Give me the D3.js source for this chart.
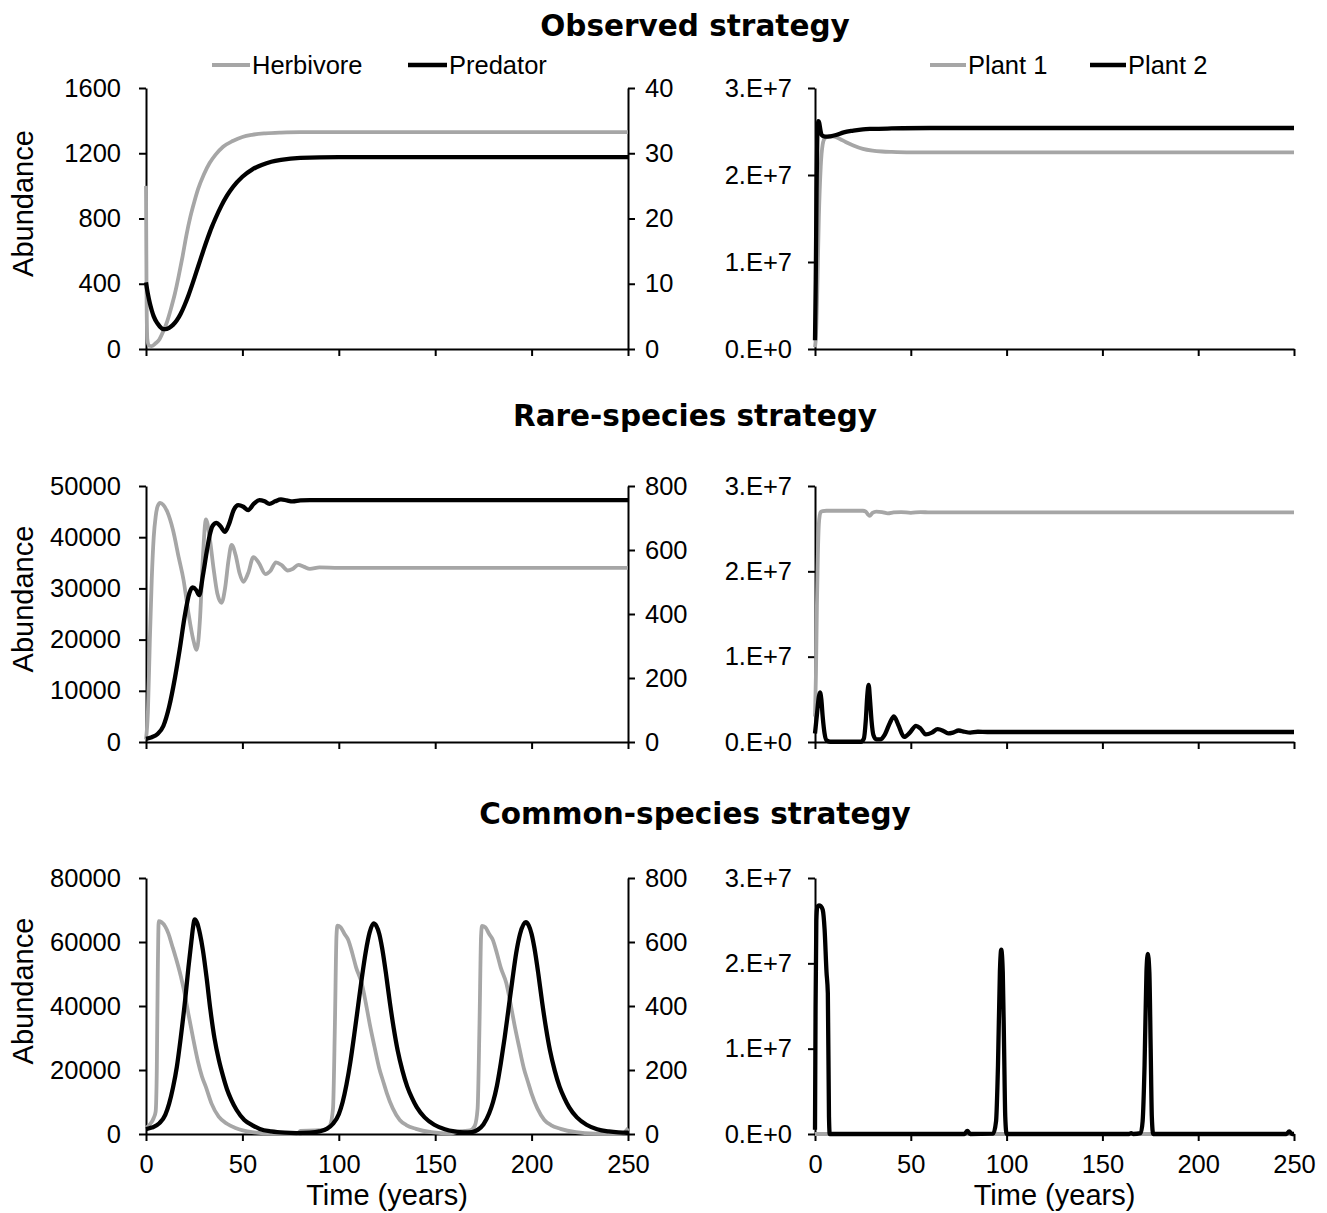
<!DOCTYPE html>
<html><head><meta charset="utf-8">
<script src="https://cdn.jsdelivr.net/npm/d3@7"></script>
<style>body{margin:0;background:#fff}svg{display:block}</style>
</head><body>
<svg id="c" width="1327" height="1213"></svg>
<script>
// ---------- labels & ticks ----------
const panelTitles = ["Observed strategy", "Rare-species strategy", "Common-species strategy"];
const animalNames = ["Herbivore", "Predator"];
const plantNames = ["Plant 1", "Plant 2"];
const timeTicks = [0, 50, 100, 150, 200, 250];
const obsLeftTicks = [0, 400, 800, 1200, 1600];
const obsRightTicks = [0, 10, 20, 30, 40];
const rareLeftTicks = [0, 10000, 20000, 30000, 40000, 50000];
const rareRightTicks = [0, 200, 400, 600, 800];
const comLeftTicks = [0, 20000, 40000, 60000, 80000];
const comRightTicks = [0, 200, 400, 600, 800];
const plantTicks = [0, 1e7, 2e7, 3e7];
const plantTickLabels = ["0.E+0", "1.E+7", "2.E+7", "3.E+7"];

// ---------- Observed strategy ----------
const obsHerbT = [0,0.3,0.7,1.5,3,5,7,9,11,13,15,17,19,21,23,25,27,30,33,36,40,45,50,55,62,70,80,250];
const obsHerbV = [1000,300,60,20,18,35,60,110,170,250,340,450,570,700,810,900,980,1070,1140,1190,1240,1275,1300,1313,1322,1327,1330,1330];
const obsPredT = [0,1,2,3,4,6,8,9,10,12,14,16,18,20,22,24,26,28,30,32,34,36,39,42,45,50,55,60,65,70,80,100,250];
const obsPredV = [10.2,8.4,7.0,5.9,5.0,3.9,3.2,3.05,3.05,3.25,3.7,4.4,5.4,6.7,8.2,9.9,11.7,13.5,15.3,17.0,18.6,20.0,21.9,23.5,24.8,26.4,27.5,28.2,28.7,29.0,29.3,29.4,29.4];
const obsP1T = [0,0.5,1,1.5,2,3,4,5,7,10,13,16,20,25,30,35,40,50,70,250];
const obsP1V = [0.2e6,1.5e6,5e6,10e6,15e6,21e6,23.5e6,24.2e6,24.45e6,24.4e6,24.15e6,23.8e6,23.4e6,23.0e6,22.8e6,22.7e6,22.65e6,22.6e6,22.6e6,22.6e6];
const obsP2T = [0,0.4,0.8,1.2,1.7,2.2,2.8,3.5,4.5,6,8,11,15,20,25,30,40,60,250];
const obsP2V = [1e6,8e6,18e6,24.5e6,26.2e6,26.0e6,25.2e6,24.6e6,24.45e6,24.4e6,24.45e6,24.6e6,24.9e6,25.1e6,25.25e6,25.3e6,25.35e6,25.4e6,25.4e6];

// ---------- Rare-species strategy ----------
const rareHerbT = [0,1,2,3,4,5,6,7.3,9,11,14,17,19.5,22,24.5,26.3,28,29.5,31.1,33,35,37,39.2,41,42.8,44.4,46.5,48.5,50.5,53,55.7,58.5,62,64.5,67.4,70.5,73.5,76,79,82,85,90,100,250];
const rareHerbV = [500,6000,20000,32000,40000,44000,46000,46700,46300,45000,41400,36000,31600,25200,20000,18000,24000,36000,43500,40000,34000,29000,27200,30000,35500,38500,36500,33000,31300,33000,36100,35000,32800,33400,35100,34500,33500,33800,34600,34200,33800,34100,34000,34000];
const rarePredT = [0,3,6,9,12,15,17.5,20,22.5,24.2,26,27.6,29.5,31.5,33,34.5,36.6,38.5,41,43,45.5,47.9,50.5,53,56,58.8,61.5,64,67,70,73,76,80,85,90,100,250];
const rarePredV = [10,15,25,50,110,200,290,390,465,483,475,459,520,595,645,675,685,675,657,680,725,740,735,725,745,756,752,744,752,758,755,752,755,756,756,756,756];
const rareP1T = [0,0.5,1,1.5,2,2.5,3,4,6,20,25,26.5,27.5,28.5,30,32,35,38,41,45,50,55,60,250];
const rareP1V = [3e6,8e6,16e6,22e6,25.5e6,26.6e6,26.95e6,27.05e6,27.1e6,27.1e6,27.1e6,27.0e6,26.7e6,26.5e6,26.85e6,27.0e6,26.95e6,26.8e6,26.9e6,26.95e6,26.85e6,26.95e6,26.9e6,26.9e6];
const rareP2T = [0,1,2,2.6,3.3,4,5,6,8,24,25.5,26.5,27.3,28,28.7,29.5,30.5,32,34,36.5,39,41.2,43.5,46.5,49.5,52.7,55,57.8,61,64,67,69.5,72,75,78,81,85,90,100,250];
const rareP2V = [1e6,3.2e6,5.3e6,5.8e6,5.0e6,3.0e6,1.0e6,0.2e6,0.03e6,0.03e6,0.4e6,2.5e6,5.5e6,6.7e6,5.0e6,2.5e6,0.8e6,0.3e6,0.3e6,0.9e6,2.2e6,3.0e6,2.0e6,0.6e6,1.1e6,1.9e6,1.6e6,0.9e6,1.1e6,1.5e6,1.3e6,1.0e6,1.1e6,1.35e6,1.2e6,1.1e6,1.2e6,1.17e6,1.17e6,1.17e6];

// ---------- Common-species strategy ----------
const comHerbT = [0,2,4,5,5.6,6.1,6.6,8,10,11.6,13.5,15.5,18.1,20,22,24.6,27,29,31,34,37.7,42,46.4,55,66,79,80,88,93,95.5,97,98,98.8,99.3,101,103,104.8,107,109,111.9,114,116,118.5,121,123,124.9,128,131.6,135,140,148,158,163,168,170.5,172,173,173.8,174.3,176,178,179.8,182,184,186.9,189,191,193.5,196,198,199.9,203,206.6,210,215,223,233,245,248,249,250];
const comHerbV = [1900,3000,5000,7000,20000,50000,66500,66200,64800,62700,59000,55000,49200,44000,37500,29400,22500,18000,14800,9500,5400,3200,1900,600,100,50,1000,1100,1400,2800,8000,35000,62000,65100,64600,62500,60800,56500,52000,47100,41000,34500,27300,20500,16500,12800,8000,4400,2800,1600,550,120,900,1100,2500,8000,35000,62000,65000,64600,62500,60800,56500,52000,47100,41000,34500,27300,20500,16500,12800,8000,4400,2800,1600,550,120,50,300,1000,1800];
const comPredT = [0,3,7,10,12,14,16,18,20.3,22,23.5,24.5,25.3,26.5,28,29.5,31.5,33.4,35.5,37.8,40,42,44.3,47,51,55,59,65,72,78,
  85,90,94,97,100,102,104,106,108,110,112,114,116,118,119.5,121,122.5,124.5,126.5,128.5,130.5,133,135.5,138,140.5,144.5,149.5,155,160,165,
  169,172,175,178,180,182,184,186,188,190,192,194,197,198.5,200,201.5,203.5,205.5,207.5,209.5,212,214.5,217,219.5,223.5,228.5,234,240,245,250];
const comPredV = [15,20,34,60,95,145,210,300,419,520,600,650,671,660,625,575,485,388,300,231,180,140,106,75,44,28,16,8,4,3,
  4,8,17,32,62,100,155,225,310,400,490,570,630,658,650,625,580,500,410,330,262,198,148,112,83,52,29,15,8,5,
  6,13,30,65,100,150,220,300,390,480,565,625,662,652,625,580,500,410,330,262,198,148,112,83,52,29,15,8,5,4];
const comP1T = [0,250];
const comP1V = [0,0];
const comP2T = [0,0.3,0.7,1.2,2,3,4,5,6,6.7,7.3,7.7,78,79.5,81,93,94.5,95.5,96.5,97.2,98,98.7,99.3,100,164,165,166,170,171,172,173,173.7,174.5,175.2,175.8,176.5,246,247.5,249,250];
const comP2V = [0.5e6,15e6,25e6,26.6e6,26.8e6,26.7e6,26.3e6,24e6,19e6,16.5e6,2e6,0,0,0.35e6,0,0.05e6,1.5e6,8e6,19e6,21.6e6,19e6,10e6,2e6,0,0,0.1e6,0,0.1e6,1.5e6,8e6,19e6,21.1e6,19e6,10e6,2e6,0,0,0.3e6,0,0];

// ---------- layout ----------
const FONT = "'Liberation Sans', Arial, Helvetica, sans-serif";
const TITLE_FONT = "'DejaVu Sans', Verdana, sans-serif";
const GRAY = "#a6a6a6";
const GRAY_W = 3.8, BLACK_W = 4.3;
const LX = [146, 628], RX = [815, 1294];

const rows = [
  {title: panelTitles[0], titleY: 36, top: 88, bottom: 349, legend: true,
   lMax: 1600, lTicks: obsLeftTicks, rMax: 40, rTicks: obsRightTicks,
   herb: [obsHerbT, obsHerbV], pred: [obsPredT, obsPredV], p1: [obsP1T, obsP1V], p2: [obsP2T, obsP2V]},
  {title: panelTitles[1], titleY: 426, top: 486, bottom: 742, legend: false,
   lMax: 50000, lTicks: rareLeftTicks, rMax: 800, rTicks: rareRightTicks,
   herb: [rareHerbT, rareHerbV], pred: [rarePredT, rarePredV], p1: [rareP1T, rareP1V], p2: [rareP2T, rareP2V]},
  {title: panelTitles[2], titleY: 824, top: 878, bottom: 1134, legend: false, xLabels: true,
   lMax: 80000, lTicks: comLeftTicks, rMax: 800, rTicks: comRightTicks,
   herb: [comHerbT, comHerbV], pred: [comPredT, comPredV], p1: [comP1T, comP1V], p2: [comP2T, comP2V]}
];

const svg = d3.select("#c");
svg.append("rect").attr("width", 1327).attr("height", 1213).attr("fill", "#fff");

function styleAxis(g) {
  g.selectAll("path.domain").attr("stroke", "#000").attr("stroke-width", 2);
  g.selectAll(".tick line").attr("stroke", "#000").attr("stroke-width", 2);
  g.selectAll(".tick text").attr("font-family", FONT).attr("font-size", 25.5).attr("fill", "#000");
}

function series(g, x, y, tv, color, width) {
  const pts = d3.zip(tv[0], tv[1]);
  g.append("path").datum(pts)
    .attr("fill", "none").attr("stroke", color).attr("stroke-width", width)
    .attr("stroke-linejoin", "round").attr("stroke-linecap", "butt")
    .attr("d", d3.line().x(d => x(d[0])).y(d => y(d[1])).curve(d3.curveMonotoneX));
}

function legend(g, items, xs, y) {
  items.forEach((it, i) => {
    g.append("line").attr("x1", xs[i][0]).attr("x2", xs[i][1]).attr("y1", y).attr("y2", y)
      .attr("stroke", it.color).attr("stroke-width", it.w);
    g.append("text").attr("x", xs[i][1] + 2).attr("y", y + 9)
      .attr("font-family", FONT).attr("font-size", 25.5).text(it.name);
  });
}

rows.forEach(r => {
  svg.append("text").attr("x", 695).attr("y", r.titleY).attr("text-anchor", "middle")
    .attr("font-family", TITLE_FONT).attr("font-weight", "bold").attr("font-size", 29.5)
    .text(r.title);

  // ----- left panel (animals) -----
  const x = d3.scaleLinear([0, 250], LX);
  const yL = d3.scaleLinear([0, r.lMax], [r.bottom, r.top]);
  const yR = d3.scaleLinear([0, r.rMax], [r.bottom, r.top]);
  const gl = svg.append("g");

  const ax = gl.append("g").attr("transform", `translate(0,${r.bottom})`)
    .call(d3.axisBottom(x).tickValues(timeTicks).tickSize(7).tickSizeOuter(0).tickPadding(14)
      .tickFormat(d => r.xLabels ? d : ""));
  styleAxis(ax);
  const al = gl.append("g").attr("transform", `translate(${LX[0]},0)`)
    .call(d3.axisLeft(yL).tickValues(r.lTicks).tickSize(7).tickSizeOuter(0).tickPadding(18).tickFormat(d3.format("d")));
  styleAxis(al);
  const ar = gl.append("g").attr("transform", `translate(${LX[1]},0)`)
    .call(d3.axisRight(yR).tickValues(r.rTicks).tickSize(7).tickSizeOuter(0).tickPadding(10).tickFormat(d3.format("d")));
  styleAxis(ar);

  series(gl, x, yL, r.herb, GRAY, GRAY_W);
  series(gl, x, yR, r.pred, "#000", BLACK_W);

  gl.append("text")
    .attr("transform", `translate(33,${(r.top + r.bottom) / 2 - 15}) rotate(-90)`)
    .attr("text-anchor", "middle").attr("font-family", FONT).attr("font-size", 29)
    .text("Abundance");

  // ----- right panel (plants) -----
  const x2 = d3.scaleLinear([0, 250], RX);
  const yP = d3.scaleLinear([0, 3e7], [r.bottom, r.top]);
  const gr = svg.append("g");
  const bx = gr.append("g").attr("transform", `translate(0,${r.bottom})`)
    .call(d3.axisBottom(x2).tickValues(timeTicks).tickSize(7).tickSizeOuter(0).tickPadding(14)
      .tickFormat(d => r.xLabels ? d : ""));
  styleAxis(bx);
  const bl = gr.append("g").attr("transform", `translate(${RX[0]},0)`)
    .call(d3.axisLeft(yP).tickValues(plantTicks).tickSize(7).tickSizeOuter(0).tickPadding(16)
      .tickFormat(d => plantTickLabels[plantTicks.indexOf(d)]));
  styleAxis(bl);

  series(gr, x2, yP, r.p1, GRAY, GRAY_W);
  series(gr, x2, yP, r.p2, "#000", BLACK_W);

  if (r.xLabels) {
    [[LX, gl], [RX, gr]].forEach(([rx, g]) => {
      g.append("text").attr("x", (rx[0] + rx[1]) / 2).attr("y", 1205)
        .attr("text-anchor", "middle").attr("font-family", FONT).attr("font-size", 29)
        .text("Time (years)");
    });
  }

  if (r.legend) {
    legend(svg, [{name: animalNames[0], color: GRAY, w: GRAY_W}, {name: animalNames[1], color: "#000", w: BLACK_W}],
      [[212, 250], [408, 447]], 65);
    legend(svg, [{name: plantNames[0], color: GRAY, w: GRAY_W}, {name: plantNames[1], color: "#000", w: BLACK_W}],
      [[930, 966], [1090, 1126]], 65);
  }
});
</script>
</body></html>
